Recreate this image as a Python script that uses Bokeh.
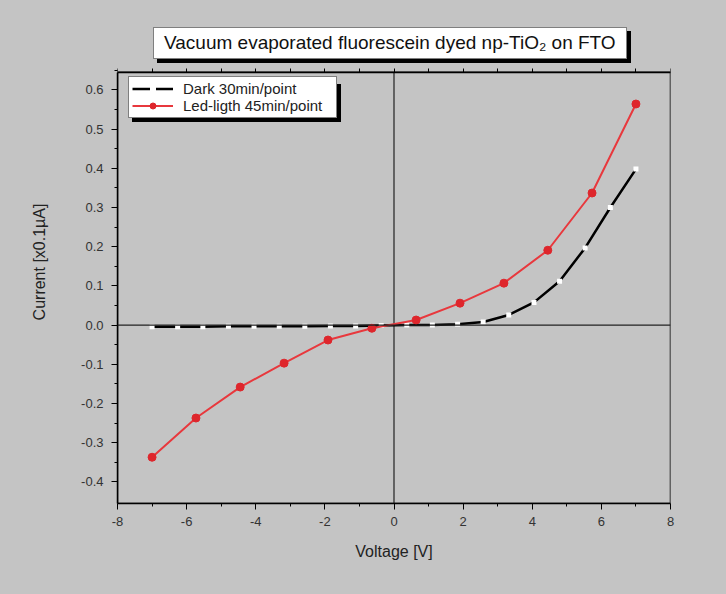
from bokeh.plotting import figure
from bokeh.models import (Range1d, LinearAxis, FixedTicker,
                          PrintfTickFormatter, Span, Legend, LegendItem)
from bokeh.embed import file_html
from bokeh.resources import INLINE

# ---- data ----
dark_v = [-7.0, -6.26, -5.53, -4.79, -4.05, -3.32, -2.58, -1.84, -1.11, -0.37,
          0.37, 1.11, 1.84, 2.58, 3.32, 4.05, 4.79, 5.53, 6.26, 7.0]
dark_i = [-0.004, -0.004, -0.004, -0.003, -0.003, -0.003, -0.003, -0.002, -0.002, -0.001,
          0.0, 0.0, 0.002, 0.008, 0.026, 0.058, 0.112, 0.197, 0.300, 0.398]
led_v = [-7.0, -5.73, -4.45, -3.18, -1.91, -0.64, 0.64, 1.91, 3.18, 4.45, 5.73, 7.0]
led_i = [-0.337, -0.237, -0.158, -0.097, -0.038, -0.008, 0.013, 0.056, 0.107, 0.191, 0.337, 0.564]

x_ticks = [-8, -6, -4, -2, 0, 2, 4, 6, 8]
y_ticks = [-0.4, -0.3, -0.2, -0.1, 0.0, 0.1, 0.2, 0.3, 0.4, 0.5, 0.6]

dark_label = "Dark 30min/point"
led_label = "Led-ligth 45min/point"
title_text = "Vacuum evaporated fluorescein dyed np-TiO\u2082 on FTO"
x_label = "Voltage [V]"
y_label = "Current [x0.1\u00b5A]"

# axis box limits
X_MIN, X_MAX = -8, 8
Y_MIN, Y_MAX = -0.455, 0.645
Y_TOP = 0.777   # extra room above the axis box for the title box

BG = "#c4c4c4"
FONT = "Liberation Sans"

p = figure(width=710, height=578, output_backend="svg", toolbar_location=None,
           x_range=Range1d(X_MIN, X_MAX), y_range=Range1d(Y_MIN, Y_TOP),
           min_border_left=117, min_border_right=40, min_border_top=20, min_border_bottom=75,
           background_fill_color=BG, border_fill_color=BG)
p.grid.visible = False
p.outline_line_color = None

x_minor = [t + 1 for t in x_ticks[:-1]]

# axes
p.xaxis.ticker = FixedTicker(ticks=x_ticks, minor_ticks=x_minor)
p.yaxis.ticker = FixedTicker(ticks=y_ticks,
                             minor_ticks=[round(t + 0.05, 3) for t in y_ticks])
p.yaxis.bounds = (Y_MIN, Y_MAX)
p.xaxis.formatter = PrintfTickFormatter(format="%d")
p.yaxis.formatter = PrintfTickFormatter(format="%.1f")
for ax in (p.xaxis[0], p.yaxis[0]):
    ax.axis_line_color = "black"
    ax.axis_line_width = 1.5
    ax.major_tick_line_color = "black"
    ax.minor_tick_line_color = "black"
    ax.major_tick_out = 6
    ax.major_tick_in = 0
    ax.minor_tick_out = 3
    ax.minor_tick_in = 0
    ax.major_label_text_font = FONT
    ax.major_label_text_font_size = "13px"
    ax.major_label_text_color = "#333333"
    ax.axis_label_text_font = FONT
    ax.axis_label_text_font_size = "16px"
    ax.axis_label_text_font_style = "normal"
    ax.axis_label_text_color = "#222222"
p.xaxis.axis_label = x_label
p.yaxis.axis_label = y_label
p.xaxis.major_label_standoff = 7
p.yaxis.major_label_standoff = 8
p.xaxis.axis_label_standoff = 14
p.yaxis.axis_label_standoff = 30

# box around the axes area
p.quad(left=[X_MIN], right=[X_MAX], bottom=[Y_MIN], top=[Y_MAX],
       fill_color=None, line_color="black", line_width=1.5)

# small outward ticks along the top edge of the box
top_ax = LinearAxis(fixed_location=Y_MAX,
                    ticker=FixedTicker(ticks=x_ticks, minor_ticks=x_minor),
                    major_label_text_color=None, major_label_text_font_size="0px",
                    axis_line_color="black", axis_line_width=1.5,
                    major_tick_in=0, major_tick_out=4,
                    minor_tick_in=0, minor_tick_out=4, minor_tick_line_color="black",
                    major_label_standoff=0)
p.add_layout(top_ax, "above")

# crosshair at origin
p.segment(x0=[0], y0=[Y_MIN], x1=[0], y1=[Y_MAX], line_color="#222222", line_width=1.2)
p.add_layout(Span(location=0, dimension="width", line_color="#222222", line_width=1.2))

# series
r_dark = p.line(dark_v, dark_i, line_color="black", line_width=2.5)
r_dark_m = p.scatter(dark_v, dark_i, marker="square", size=5, fill_color="white", line_color=None)
r_led = p.line(led_v, led_i, line_color="#e8383d", line_width=2)
r_led_m = p.scatter(led_v, led_i, marker="circle", size=8, fill_color="#de262c", line_color="#de262c")

# invisible helper glyph for boxes
blank = p.line([], [], line_alpha=0)

# legend (with a black shadow box behind it)
leg_kw = dict(padding=3, spacing=0, glyph_height=15, label_height=15, glyph_width=41,
              label_standoff=10, label_width=150, label_text_font=FONT,
              label_text_font_size="15px", border_line_width=1, margin=0)
shadow = Legend(items=[LegendItem(label=" ", renderers=[blank]),
                       LegendItem(label=" ", renderers=[blank])],
                location=(15, 381), background_fill_color="black", background_fill_alpha=1.0,
                border_line_color="black", **leg_kw)
legend = Legend(items=[LegendItem(label=dark_label, renderers=[r_dark, r_dark_m]),
                       LegendItem(label=led_label, renderers=[r_led, r_led_m])],
                location=(11, 385), background_fill_color="white", background_fill_alpha=1.0,
                border_line_color="black", label_text_color="#222222", **leg_kw)

# title box (with a black shadow box behind it)
tit_kw = dict(padding=4, spacing=0, glyph_height=22, label_height=22, glyph_width=6,
              label_standoff=0, label_width=458, label_text_font=FONT,
              label_text_font_size="19px", border_line_width=1, margin=0)
tshadow = Legend(items=[LegendItem(label=" ", renderers=[blank])],
                 location=(40, 440), background_fill_color="black", background_fill_alpha=1.0,
                 border_line_color="black", **tit_kw)
tbox = Legend(items=[LegendItem(label=title_text, renderers=[blank])],
              location=(36, 444), background_fill_color="white", background_fill_alpha=1.0,
              border_line_color="black", label_text_color="#111111", **tit_kw)

p.add_layout(shadow)
p.add_layout(legend)
p.add_layout(tshadow)
p.add_layout(tbox)

html = file_html(p, INLINE)
html = html.replace("<head>", "<head><style>body{background:%s;}</style>" % BG, 1)
open("out.html", "w").write(html)
